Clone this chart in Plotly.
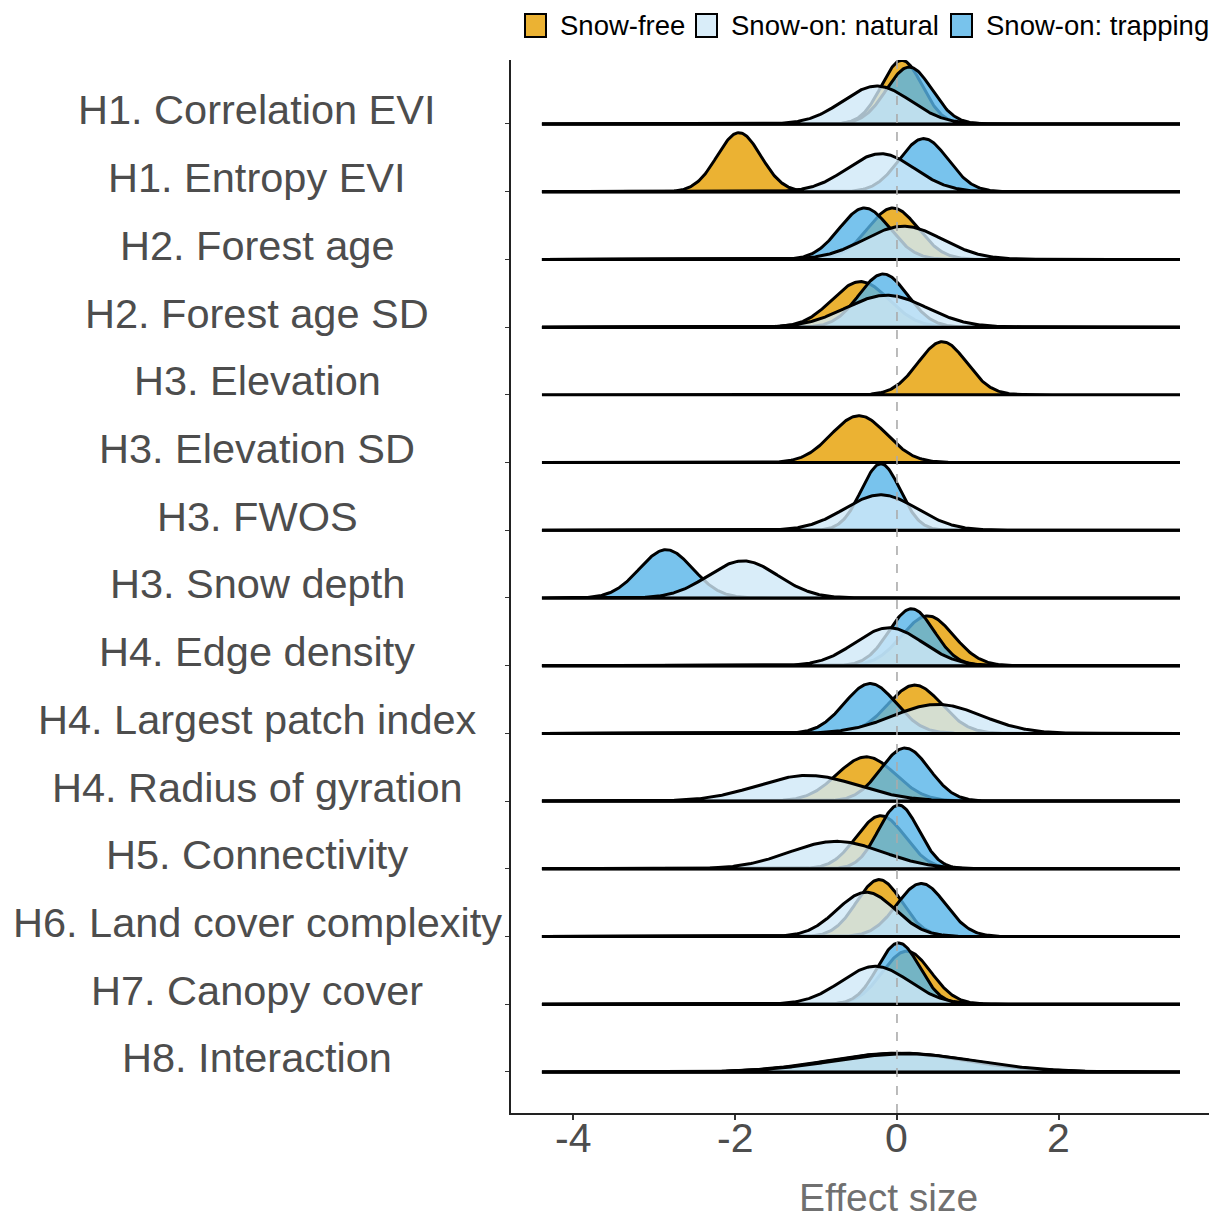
import numpy as np
import plotly.graph_objects as go

# Hypotheses, listed top to bottom
hypotheses = [
    "H1. Correlation EVI", "H1. Entropy EVI", "H2. Forest age", "H2. Forest age SD",
    "H3. Elevation", "H3. Elevation SD", "H3. FWOS", "H3. Snow depth",
    "H4. Edge density", "H4. Largest patch index", "H4. Radius of gyration",
    "H5. Connectivity", "H6. Land cover complexity", "H7. Canopy cover",
    "H8. Interaction",
]

# Posterior mean and SD of the effect size for each season model (None = not in model)
snowfree_mean = [0.06, -1.95, -0.05, -0.45, 0.56, -0.47, None, None, 0.38, 0.22, -0.38, -0.20, -0.22, 0.12, 0.05]
snowfree_sd = [0.25, 0.27, 0.31, 0.35, 0.30, 0.34, None, None, 0.32, 0.33, 0.36, 0.30, 0.28, 0.30, 0.85]

trapping_mean = [0.15, 0.33, -0.40, -0.17, None, None, -0.20, -2.85, 0.18, -0.33, 0.10, 0.02, 0.30, 0.02, 0.00]
trapping_sd = [0.28, 0.30, 0.31, 0.30, None, None, 0.24, 0.33, 0.28, 0.32, 0.30, 0.25, 0.30, 0.26, 0.85]

natural_mean = [-0.25, -0.20, 0.08, -0.13, None, None, -0.20, -1.90, -0.10, 0.50, -1.10, -0.75, -0.38, -0.27, 0.10]
natural_sd = [0.42, 0.42, 0.48, 0.50, None, None, 0.45, 0.43, 0.42, 0.55, 0.62, 0.58, 0.36, 0.42, 0.88]

x_ticks = [-4, -2, 0, 2]

series_fill = {
    "Snow-free": "rgba(230,159,0,0.8)",
    "Snow-on: natural": "rgba(207,232,247,0.8)",
    "Snow-on: trapping": "rgba(86,180,233,0.8)",
}
legend_key_fill = {
    "Snow-free": "#EBB233",
    "Snow-on: natural": "#D9EDF9",
    "Snow-on: trapping": "#78C3EC",
}

# drawing order within each ridge: snow-free, trapping, then natural on top
series_data = [
    ("Snow-free", snowfree_mean, snowfree_sd),
    ("Snow-on: trapping", trapping_mean, trapping_sd),
    ("Snow-on: natural", natural_mean, natural_sd),
]

x_grid = np.linspace(-4.383, 3.494, 700)
ridge_scale = 0.59  # ridge height per unit density, in row units
n_rows = len(hypotheses)
baselines = [n_rows - i for i in range(n_rows)]

FONT = "Liberation Sans, Arial, Helvetica, sans-serif"

fig = go.Figure()
for i, hyp in enumerate(hypotheses):
    base = baselines[i]
    for name, means, sds in series_data:
        mu, sd = means[i], sds[i]
        if mu is None:
            continue
        dens = np.exp(-0.5 * ((x_grid - mu) / sd) ** 2) / (sd * np.sqrt(2 * np.pi))
        ys = base + ridge_scale * dens
        xs = np.concatenate([x_grid, [x_grid[-1], x_grid[0]]])
        yy = np.concatenate([ys, [base, base]])
        fig.add_trace(go.Scatter(
            x=xs, y=yy, mode="lines", fill="toself",
            fillcolor=series_fill[name],
            line=dict(color="black", width=3),
            hoverinfo="skip", showlegend=False,
        ))

W, H = 1209, 1220
ml, mr, mt, mb = 511, 0, 60, 107
pw, ph = W - ml - mr, H - mt - mb


def px_x(px):
    return (px - ml) / pw


def px_y(py):
    return (H - mb - py) / ph


annotations = []
for i, hyp in enumerate(hypotheses):
    annotations.append(dict(
        x=px_x(257), xref="paper", y=baselines[i], yref="y", yshift=14,
        text=hyp, showarrow=False, xanchor="center", yanchor="middle",
        font=dict(family=FONT, size=41.5, color="#4D4D4D"),
    ))

# x tick labels (hyphen-minus, set close under the axis)
for v in x_ticks:
    annotations.append(dict(
        x=v, xref="x", y=px_y(1138), yref="paper",
        text=str(v), showarrow=False, xanchor="center", yanchor="middle",
        font=dict(family=FONT, size=41, color="#4D4D4D"),
    ))

annotations.append(dict(
    x=px_x(888), xref="paper", y=px_y(1197), yref="paper",
    text="Effect size", showarrow=False, xanchor="center", yanchor="middle",
    font=dict(family=FONT, size=39, color="#707070"),
))

shapes = [dict(
    type="line", xref="x", yref="paper", x0=0, x1=0, y0=0, y1=1,
    line=dict(color="#ABABAB", width=1.6, dash="dash"), layer="above",
)]

legend_items = [
    ("Snow-free", 525, 558),
    ("Snow-on: natural", 696, 729),
    ("Snow-on: trapping", 951, 984),
]
for name, key_x, text_x in legend_items:
    shapes.append(dict(
        type="rect", xref="paper", yref="paper",
        x0=px_x(key_x), x1=px_x(key_x + 21), y0=px_y(37), y1=px_y(14),
        fillcolor=legend_key_fill[name], line=dict(color="black", width=2),
    ))
    annotations.append(dict(
        x=px_x(text_x), xref="paper", y=px_y(26), yref="paper",
        text=name, showarrow=False, xanchor="left", yanchor="middle",
        font=dict(family=FONT, size=27.5, color="black"),
    ))

fig.update_layout(
    width=W, height=H,
    margin=dict(l=ml, r=mr, t=mt, b=mb, pad=0),
    paper_bgcolor="white", plot_bgcolor="white",
    showlegend=False,
    xaxis=dict(
        range=[-4.765, 3.852], showgrid=False, zeroline=False,
        showline=True, linecolor="#222222", linewidth=1.5,
        ticks="outside", ticklen=5, tickwidth=1.5, tickcolor="#333333",
        tickvals=x_ticks, showticklabels=False,
    ),
    yaxis=dict(
        range=[0.394, 15.945], showgrid=False, zeroline=False,
        showline=True, linecolor="#222222", linewidth=1.5,
        ticks="outside", ticklen=4, tickwidth=1.2, tickcolor="#333333",
        tickvals=baselines, showticklabels=False,
    ),
    annotations=annotations,
    shapes=shapes,
)

fig.write_html("out.html")
